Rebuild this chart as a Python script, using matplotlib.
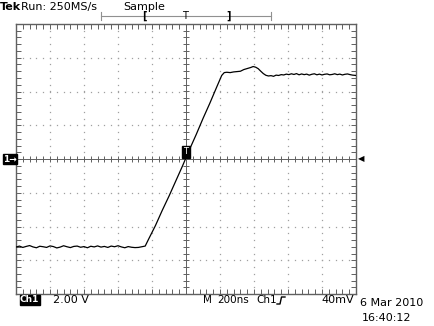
import matplotlib
matplotlib.use('Agg')
import matplotlib.pyplot as plt
from matplotlib.lines import Line2D
import numpy as np

# --- scope trace: time in ns, Ch1 in volts (2 V/div, 200 ns/div) ---
t_ns = [-1000, -980, -960, -940, -920, -900, -880, -860, -840, -820,
        -800, -780, -760, -740, -720, -700, -680, -660, -640, -620,
        -600, -580, -560, -540, -520, -500, -480, -460, -440, -420,
        -400, -380, -360, -340, -320, -300, -280, -260, -240,
        -220, -180, -140, -100, -60, -20, 20, 60, 100, 140, 180, 210, 225,
        240, 260, 280, 300, 320, 340, 360, 380, 395, 410, 425, 440, 455,
        470, 485, 500, 515, 530, 545, 560, 575, 590, 605, 620, 635, 650,
        665, 680, 695, 710, 725, 740, 755, 770, 785, 800, 815, 830, 845,
        860, 875, 890, 905, 920, 935, 950, 965, 980, 1000]
v_ch1 = [-5.22, -5.16, -5.24, -5.18, -5.13, -5.21, -5.26, -5.17, -5.20, -5.24,
         -5.15, -5.19, -5.27, -5.22, -5.14, -5.20, -5.25, -5.18, -5.16, -5.23,
         -5.19, -5.26, -5.17, -5.21, -5.15, -5.22, -5.18, -5.24, -5.16, -5.20,
         -5.14, -5.21, -5.26, -5.19, -5.23, -5.25, -5.24, -5.20, -5.16,
         -4.75, -3.95, -3.05, -2.20, -1.30, -0.40, 0.55, 1.45, 2.40, 3.30, 4.25, 4.95, 5.12,
         5.14, 5.12, 5.16, 5.18, 5.20, 5.30, 5.36, 5.42, 5.48, 5.44, 5.35, 5.20, 5.06,
         4.96, 4.92, 4.94, 4.90, 4.97, 4.95, 5.00, 4.98, 5.03, 5.00, 5.05, 5.01, 5.06,
         4.99, 5.04, 5.00, 5.03, 4.97, 5.02, 5.05, 4.99, 5.03, 4.98, 5.02, 5.04, 4.99,
         5.01, 5.05, 5.00, 5.03, 4.98, 5.02, 5.04, 5.00, 4.97, 4.95]

W, H = 435, 326
fig = plt.figure(figsize=(W / 100, H / 100), dpi=100)
fig.patch.set_facecolor('white')
ax = fig.add_axes([16 / W, 1 - 294 / H, 340 / W, 270 / H])

def fx(x):
    return x / W

def fy(y):
    return 1 - y / H

grid_col = '#a0a0a0'
edge_col = '#606060'

ax.set_xlim(-1000, 1000)
ax.set_ylim(-8, 8)

# dotted graticule
for gx in range(-800, 1000, 200):
    if gx == 0:
        continue
    ys = np.arange(-8, 8.01, 0.4)
    ax.plot([gx] * len(ys), ys, ls='', marker='s', ms=0.9, color=grid_col, mew=0)
for gy in range(-6, 8, 2):
    if gy == 0:
        continue
    xs = np.arange(-1000, 1001, 40)
    ax.plot(xs, [gy] * len(xs), ls='', marker='s', ms=0.9, color=grid_col, mew=0)

# centre cross with minor ticks
ax.axhline(0, color=edge_col, lw=0.7)
ax.axvline(0, color=edge_col, lw=0.7)
xs = np.arange(-1000, 1001, 40)
ys = np.arange(-8, 8.01, 0.4)
ax.plot(xs, np.zeros_like(xs), ls='', marker='|', ms=5, mew=0.7, color=edge_col)
ax.plot(np.zeros_like(ys), ys, ls='', marker='_', ms=5, mew=0.7, color=edge_col)

# border ticks
ax.set_xticks(np.arange(-1000, 1001, 200))
ax.set_yticks(np.arange(-8, 8.01, 2))
ax.set_xticks(np.arange(-1000, 1001, 40), minor=True)
ax.set_yticks(np.arange(-8, 8.01, 0.4), minor=True)
ax.tick_params(which='both', direction='in', length=3.5, width=0.7, color=edge_col,
               top=True, right=True, labelbottom=False, labelleft=False)
for s in ax.spines.values():
    s.set_color(edge_col)
    s.set_linewidth(1.0)

# trace
ax.plot(t_ns, v_ch1, color='black', lw=0.9, zorder=5)

fs = 8
# header
fig.text(fx(0), fy(7), 'Tek', fontsize=fs, fontweight='bold', va='center', ha='left')
fig.text(fx(21), fy(7), 'Run: 250MS/s', fontsize=fs, va='center', ha='left')
fig.text(fx(123), fy(7), 'Sample', fontsize=fs, va='center', ha='left')

# record bar
fig.add_artist(Line2D([fx(101), fx(271)], [fy(16), fy(16)], color='#909090', lw=0.8))
for ex in (101, 271):
    fig.add_artist(Line2D([fx(ex), fx(ex)], [fy(12), fy(20)], color='#909090', lw=0.8))
fig.text(fx(144), fy(16), '[', fontsize=7, fontweight='bold', ha='center', va='center')
fig.text(fx(185), fy(16), 'T', fontsize=7, ha='center', va='center')
fig.text(fx(229), fy(16), ']', fontsize=7, fontweight='bold', ha='center', va='center')

# markers
fig.text(fx(186), fy(152), 'T', fontsize=6, color='white', ha='center', va='center',
         bbox=dict(boxstyle='square,pad=0.15', fc='black', ec='black'), zorder=10)
fig.text(fx(3), fy(159), '1→', fontsize=6.5, color='white', fontweight='bold',
         ha='left', va='center',
         bbox=dict(boxstyle='square,pad=0.05', fc='black', ec='black'))
fig.text(fx(358), fy(159), '◀', fontsize=6, ha='left', va='center')

# footer
fs2 = 7.5
fig.text(fx(20), fy(300), 'Ch1', fontsize=6.5, color='white', fontweight='bold',
         ha='left', va='center',
         bbox=dict(boxstyle='square,pad=0.05', fc='black', ec='black'))
fig.text(fx(53), fy(300), '2.00 V', fontsize=fs, ha='left', va='center')
fig.text(fx(203), fy(300), 'M', fontsize=fs2, ha='left', va='center')
fig.text(fx(217), fy(300), '200ns', fontsize=fs2, ha='left', va='center')
fig.text(fx(256), fy(300), 'Ch1', fontsize=fs2, ha='left', va='center')
fig.add_artist(Line2D([fx(277), fx(280), fx(281.5), fx(285)],
                      [fy(304), fy(304), fy(297), fy(297)], color='black', lw=1.0))
fig.text(fx(354), fy(300), '40mV', fontsize=fs, ha='right', va='center')
fig.text(fx(360), fy(303), '6 Mar 2010', fontsize=fs, ha='left', va='center')
fig.text(fx(362), fy(318), '16:40:12', fontsize=fs, ha='left', va='center')

fig.savefig('out.png', dpi=100, facecolor='white')
